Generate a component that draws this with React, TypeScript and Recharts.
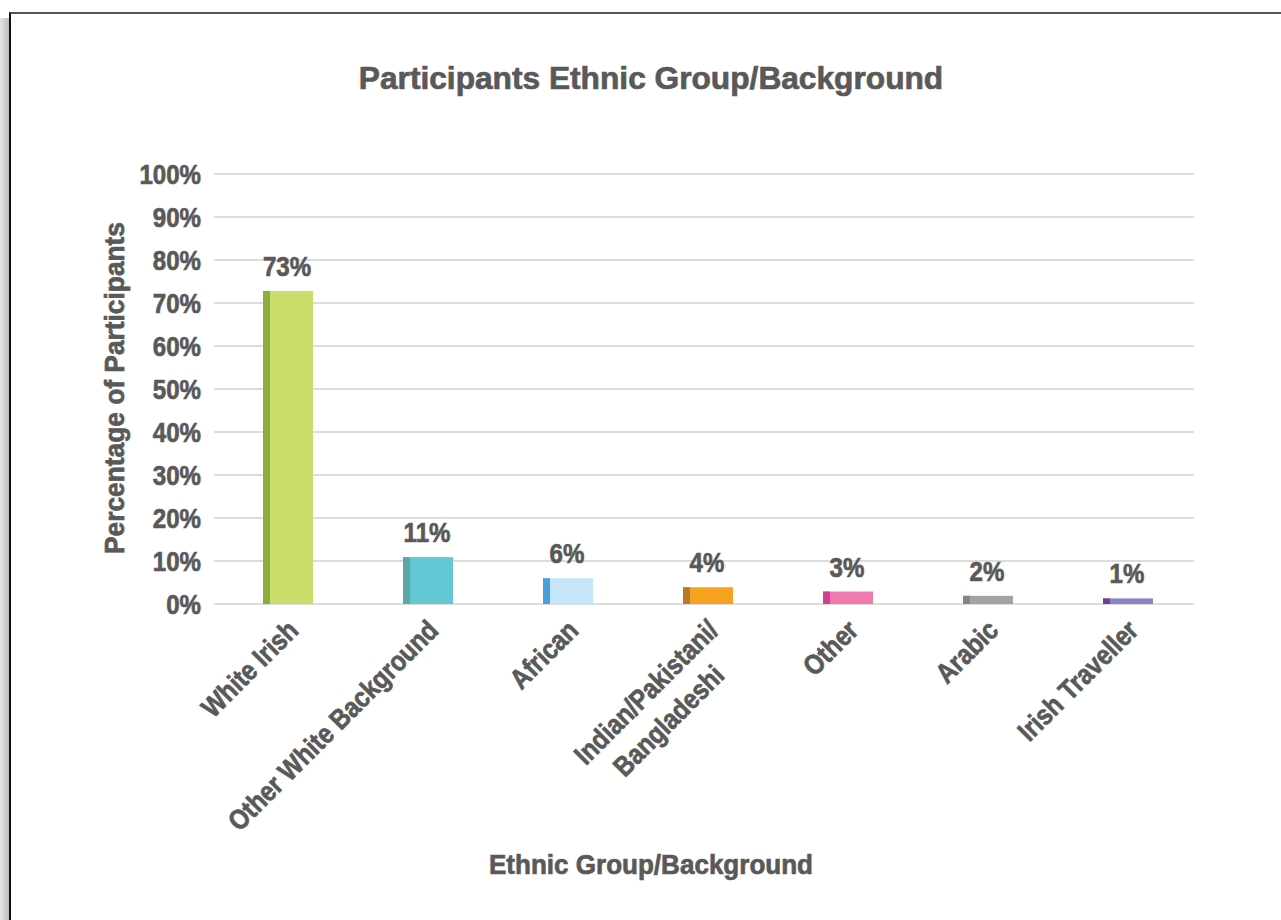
import React from "react";
import { BarChart, Bar, XAxis, YAxis, CartesianGrid, LabelList } from "recharts";

const categories = [
  "White Irish",
  "Other White Background",
  "African",
  "Indian/Pakistani/\nBangladeshi",
  "Other",
  "Arabic",
  "Irish Traveller",
];
const values = [72.8, 10.9, 6.0, 3.9, 2.9, 1.9, 1.3];
const valueLabels = ["73%", "11%", "6%", "4%", "3%", "2%", "1%"];
const yTicks = [0, 10, 20, 30, 40, 50, 60, 70, 80, 90, 100];
const lightColors = ["#cadc6a", "#62c8d3", "#c4e6f8", "#f6a21f", "#f07aaf", "#a3a3a6", "#8a84c4"];
const darkColors = ["#8aad3c", "#5aa8a8", "#4a9fd8", "#b87a2a", "#d13f97", "#86868a", "#6f3f9a"];

const data = categories.map((c, i) => ({ name: c, value: values[i], label: valueLabels[i], idx: i }));

const FONT = "'Liberation Sans', Arial, sans-serif";
const GRAY = "#595959";
const SX = 0.86;
const THICK = 0.7;

const BarShape = (props: any) => {
  const { x, y, width, height, payload } = props;
  const i = payload.idx;
  const sx = x + 4;
  return (
    <g>
      <rect x={sx} y={y} width={width} height={height} fill={lightColors[i]} />
      <rect x={sx} y={y} width={7} height={height} fill={darkColors[i]} />
    </g>
  );
};

const XTick = (props: any) => {
  const { x, y, payload } = props;
  const lines = String(payload.value).split("\n");
  return (
    <g transform={`translate(${x + 16},${y + 20}) rotate(-45) scale(${SX},1)`}>
      {lines.map((l, k) => (
        <text
          key={k}
          x={k === 0 ? 0 : -32}
          y={k * 36}
          textAnchor="end"
          fontFamily={FONT}
          fontWeight="bold"
          fontSize={28}
          fill={GRAY}
          stroke={GRAY}
          strokeWidth={THICK}
        >
          {l}
        </text>
      ))}
    </g>
  );
};

const YTick = (props: any) => {
  const { x, y, payload } = props;
  return (
    <text
      transform={`translate(${x},${y}) scale(${SX},1)`}
      dy="0.36em"
      textAnchor="end"
      fontFamily={FONT}
      fontWeight="bold"
      fontSize={28}
      fill={GRAY}
      stroke={GRAY}
      strokeWidth={THICK}
    >
      {`${payload.value}%`}
    </text>
  );
};

const ValueLabel = (props: any) => {
  const { x, y, width, index } = props;
  return (
    <text
      transform={`translate(${x + width / 2 + 3},${y - 15}) scale(${SX},1)`}
      textAnchor="middle"
      fontFamily={FONT}
      fontWeight="bold"
      fontSize={28}
      fill={GRAY}
      stroke={GRAY}
      strokeWidth={THICK}
    >
      {valueLabels[index]}
    </text>
  );
};

const titleStyle: React.CSSProperties = {
  position: "absolute",
  whiteSpace: "nowrap",
  fontFamily: FONT,
  fontWeight: "bold",
  color: GRAY,
  WebkitTextStroke: `${THICK}px ${GRAY}`,
};

export default function App() {
  return (
    <div style={{ position: "fixed", left: 0, top: 0, width: 1281, height: 920, background: "#fff", overflow: "hidden" }}>
      <div style={{ position: "absolute", left: 0, top: 18, width: 9, height: 902, background: "linear-gradient(to right, #e6e6e6, #bdbdbd)" }} />
      <div style={{ position: "absolute", left: 9, top: 12, width: 1290, height: 920, borderTop: "2px solid #555", borderLeft: "2px solid #111", boxSizing: "border-box" }} />
      <BarChart
        width={1281}
        height={920}
        data={data}
        margin={{ top: 174, right: 87, bottom: 116, left: 134 }}
        style={{ position: "absolute", left: 0, top: 0 }}
        barSize={50}
      >
        <CartesianGrid vertical={false} stroke="#dcdcdc" strokeWidth={2} />
        <XAxis
          dataKey="name"
          interval={0}
          height={200}
          tickLine={false}
          axisLine={false}
          tick={<XTick />}
        />
        <YAxis
          width={80}
          domain={[0, 100]}
          ticks={yTicks}
          tickLine={false}
          axisLine={false}
          tickSize={0}
          tickMargin={13}
          tick={<YTick />}
        />
        <Bar dataKey="value" shape={<BarShape />} isAnimationActive={false}>
          <LabelList dataKey="label" content={<ValueLabel />} />
        </Bar>
      </BarChart>
      <div style={{ ...titleStyle, left: 651, top: 78, transform: "translate(-50%,-50%) scaleX(0.99)", fontSize: 32 }}>
        Participants Ethnic Group/Background
      </div>
      <div style={{ ...titleStyle, left: 115, top: 388, transform: "translate(-50%,-50%) rotate(-90deg) scaleX(0.94)", fontSize: 28 }}>
        Percentage of Participants
      </div>
      <div style={{ ...titleStyle, left: 651, top: 865, transform: "translate(-50%,-50%) scaleX(0.93)", fontSize: 28 }}>
        Ethnic Group/Background
      </div>
    </div>
  );
}
